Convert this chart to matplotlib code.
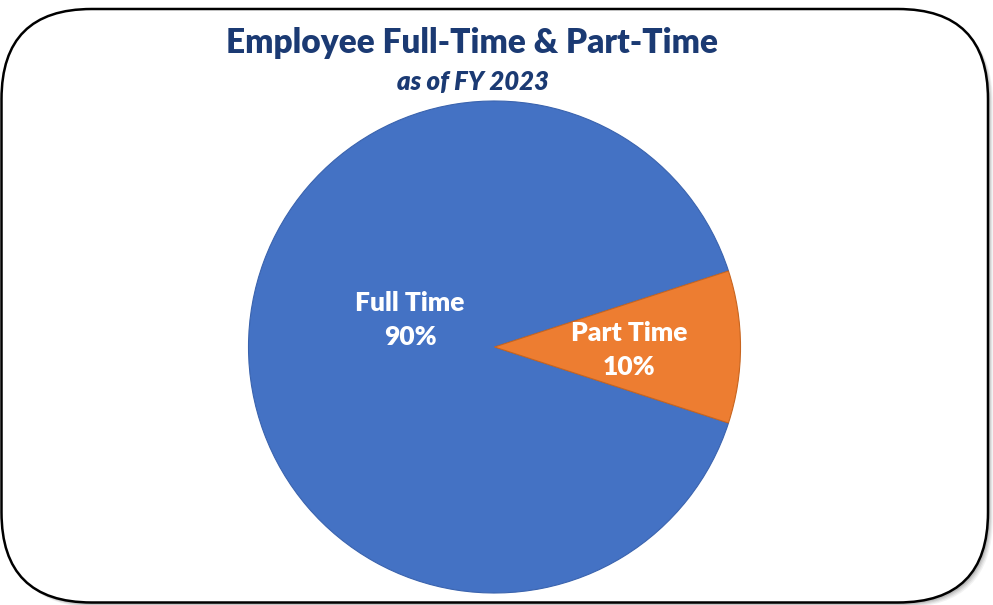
import matplotlib
matplotlib.use("Agg")
import matplotlib.pyplot as plt
from matplotlib.patches import FancyBboxPatch

categories = ["Full Time", "Part Time"]
percentages = [90, 10]
colors = ["#4472C4", "#ED7D31"]
title = "Employee Full-Time & Part-Time"
subtitle = "as of FY 2023"

W, H = 993, 605
fig = plt.figure(figsize=(W / 100, H / 100), dpi=100)
ax = fig.add_axes([0, 0, 1, 1])
ax.set_xlim(0, W)
ax.set_ylim(0, H)
ax.set_aspect("equal")
ax.axis("off")

# rounded frame with soft shadow
x0, y0, x1, y1 = 1.5, 2.5, 988, 596  # y in data coords (bottom-up)
r = 90
for i, a in enumerate([0.05, 0.06, 0.08, 0.10]):
    off = 5 - i
    sh = FancyBboxPatch((x0 + off + r, y0 - off + r), (x1 - x0) - 2 * r, (y1 - y0) - 2 * r,
                        boxstyle=f"round,pad={r}", fc="black", ec="none", alpha=a, zorder=0)
    ax.add_patch(sh)
box = FancyBboxPatch((x0 + r, y0 + r), (x1 - x0) - 2 * r, (y1 - y0) - 2 * r,
                     boxstyle=f"round,pad={r}", fc="white", ec="black", lw=1.8, zorder=1)
ax.add_patch(box)

cx, cy, rad = 494.5, H - 347, 246
wedges, _ = ax.pie(percentages, colors=colors, startangle=18, counterclock=True,
                   center=(cx, cy), radius=rad, frame=True,
                   wedgeprops=dict(edgecolor="#3A63AE", linewidth=0.8, zorder=2))
wedges[1].set_edgecolor("#C8651F")
ax.set_xlim(0, W)
ax.set_ylim(0, H)
ax.axis("off")

font = "Lato"
label_pos = [(410, H - 320), (629, H - 350)]
for (lx, ly), cat, p in zip(label_pos, categories, percentages):
    ax.text(lx, ly, f"{cat}\n{p}%", ha="center", va="center", color="white",
            fontsize=19, fontweight="heavy", family=font, linespacing=1.5, zorder=5)

ax.text(472, H - 43, title, ha="center", va="center", color="#1B3A73",
        fontsize=24, fontweight="heavy", family=font, zorder=5)
ax.text(472.5, H - 82, subtitle, ha="center", va="center", color="#1B3A73",
        fontsize=18.5, fontweight="heavy", style="italic", family=font, zorder=5)

fig.savefig("out.png", dpi=100)
